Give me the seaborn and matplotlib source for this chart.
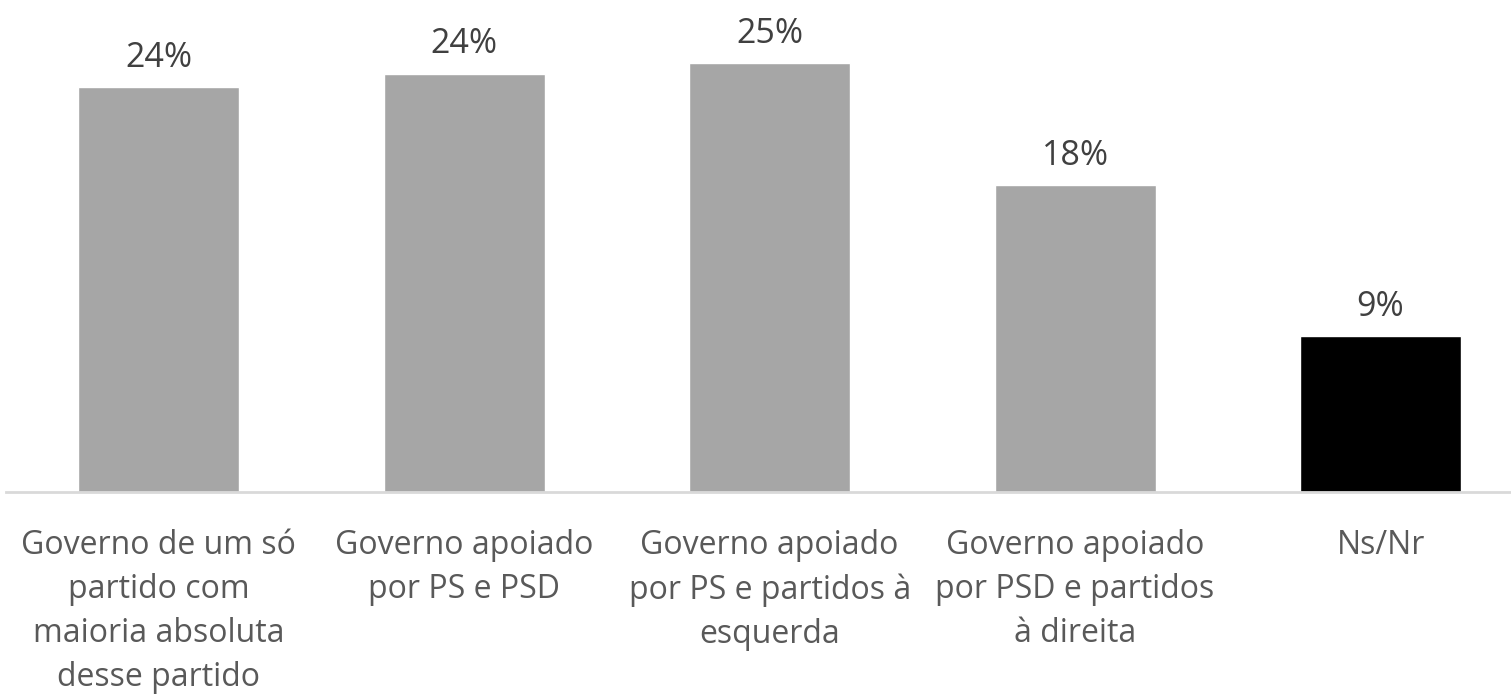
import matplotlib
matplotlib.use("Agg")
import matplotlib.pyplot as plt
import seaborn as sns
import pandas as pd

categories = ["Governo de um só\npartido com\nmaioria absoluta\ndesse partido",
              "Governo apoiado\npor PS e PSD",
              "Governo apoiado\npor PS e partidos à\nesquerda",
              "Governo apoiado\npor PSD e partidos\nà direita",
              "Ns/Nr"]
values = [23.6, 24.4, 25.0, 17.9, 9.1]
value_labels = ["24%", "24%", "25%", "18%", "9%"]
bar_colors = ["#a6a6a6", "#a6a6a6", "#a6a6a6", "#a6a6a6", "#000000"]

sns.set_style("white")
plt.rcParams['font.family'] = ['Open Sans', 'DejaVu Sans']

df = pd.DataFrame({"cat": categories, "val": values})

fig = plt.figure(figsize=(15.11, 6.94), dpi=100)
ax = fig.add_axes([6 / 1511, 1 - 492 / 694, 1505 / 1511, 492 / 694])
sns.barplot(data=df, x="cat", y="val", hue="cat", palette=bar_colors,
            width=0.527, legend=False, ax=ax, saturation=1)

for cont, lab in zip(ax.containers, value_labels):
    ax.bar_label(cont, labels=[lab], padding=9, fontsize=24.5, color="#404040")

ax.set_xlim(-0.5, 4.427)
ax.set_ylim(0, 28.7)
ax.set_xlabel("")
ax.set_ylabel("")
ax.set_yticks([])
ax.tick_params(axis="x", length=0, pad=27, labelsize=23, labelcolor="#595959")
for t in ax.get_xticklabels():
    t.set_linespacing(1.44)
for s in ["top", "right", "left"]:
    ax.spines[s].set_visible(False)
ax.spines["bottom"].set_color("#d9d9d9")
ax.spines["bottom"].set_linewidth(2)

fig.savefig("out.png", dpi=100)
